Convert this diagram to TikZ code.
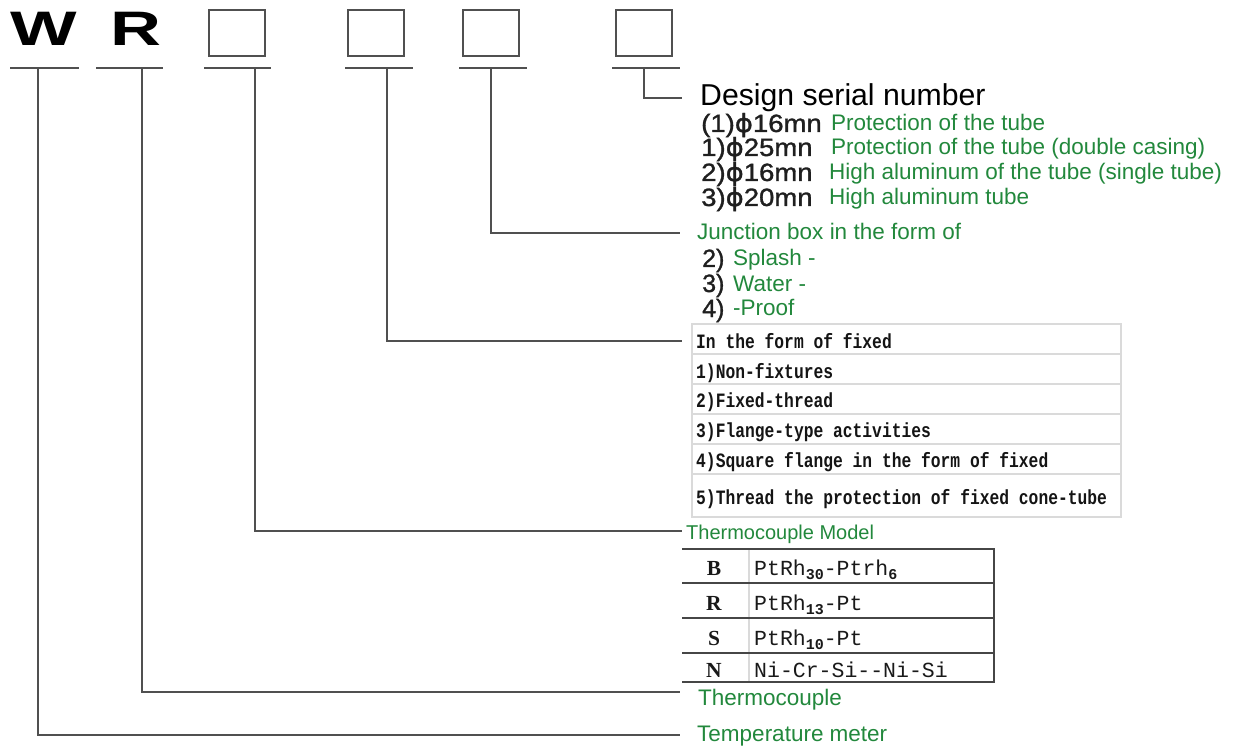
\documentclass[tikz,border=0pt]{standalone}
\usepackage{fontspec}
\setmainfont{Liberation Sans}
\newfontfamily\monof{Liberation Mono}
\newfontfamily\seriff{Liberation Serif}
\newfontfamily\phif[FakeBold=1.2]{DejaVu Sans}
\newfontfamily\semib[FakeBold=1.2]{Liberation Sans}
\definecolor{tgreen}{RGB}{34,136,60}
\definecolor{lgray}{RGB}{80,80,80}
\definecolor{tabgray}{RGB}{218,218,218}
\definecolor{tabdark}{RGB}{70,70,70}
\begin{document}
\begin{tikzpicture}[x=1pt,y=-1pt,
  leg/.style={draw=lgray,line width=2pt},
  ubar/.style={draw=lgray,line width=2.5pt},
  codebox/.style={draw=lgray,line width=2pt,minimum width=56pt,minimum height=46pt,inner sep=0pt},
  bigletter/.style={inner sep=0pt,anchor=base},
  gtext/.style={anchor=base west,inner sep=0pt,text=tgreen,font=\fontsize{22.5}{22.5}\selectfont},
  btext/.style={anchor=base west,inner sep=0pt,text=black,font=\fontsize{30.2}{30.2}\selectfont},
  ptext/.style={anchor=base west,inner sep=0pt,text=black!88,font=\semib\fontsize{25}{25}\selectfont},
  ttext/.style={anchor=base west,inner sep=0pt,text=black!92,font=\monof\bfseries\fontsize{16.3}{16.3}\selectfont},
  mtext/.style={anchor=base west,inner sep=0pt,text=black!90,font=\monof\fontsize{21.5}{21.5}\selectfont},
  ltext/.style={anchor=base,inner sep=0pt,text=black!90,font=\seriff\bfseries\fontsize{21.5}{21.5}\selectfont},
  tabline/.style={draw=tabgray,line width=1.2pt},
  tabdarkline/.style={draw=tabdark,line width=2pt}
]
\useasboundingbox (0,0) rectangle (1235,746);

% code letters and boxes
\node[bigletter] (w) at (44,46) {\scalebox{1.5}[1.03]{\fontsize{47}{47}\selectfont\bfseries W}};
\node[bigletter] (r) at (136,46) {\scalebox{1.5}[1.03]{\fontsize{47}{47}\selectfont\bfseries R}};
\node[codebox] (b1) at (237,33) {};
\node[codebox] (b2) at (376,33) {};
\node[codebox] (b3) at (491,33) {};
\node[codebox] (b4) at (644,33) {};

% underlines
\draw[ubar] (10,68) -- (79,68);
\draw[ubar] (96,68) -- (163,68);
\draw[ubar] (204,68) -- (271,68);
\draw[ubar] (345,68) -- (413,68);
\draw[ubar] (459,68) -- (527,68);
\draw[ubar] (612,68) -- (680,68);

% leg tops and ends
\coordinate (t1) at (38,68);
\coordinate (t2) at (142,68);
\coordinate (t3) at (255,68);
\coordinate (t4) at (387,68);
\coordinate (t5) at (491,68);
\coordinate (t6) at (644,68);
\coordinate (e1) at (680,735);
\coordinate (e2) at (680,692);
\coordinate (e3) at (682,531);
\coordinate (e4) at (682,341);
\coordinate (e5) at (680,233);
\coordinate (e6) at (682,98);

% texts: design serial number
\node[btext] (design) at (700,106) {Design serial number};
\node[ptext] (p1) at (701,132) {\scalebox{1.1}[1]{(1){\phif ϕ}16mn}};
\node[gtext] (g1) at (831,131) {Protection of the tube};
\node[ptext] (p2) at (701,156) {\scalebox{1.1}[1]{1){\phif ϕ}25mn}};
\node[gtext] (g2) at (831,155) {Protection of the tube (double casing)};
\node[ptext] (p3) at (701,181) {\scalebox{1.1}[1]{2){\phif ϕ}16mn}};
\node[gtext] (g3) at (829,180) {High aluminum of the tube (single tube)};
\node[ptext] (p4) at (701,206) {\scalebox{1.1}[1]{3){\phif ϕ}20mn}};
\node[gtext] (g4) at (829,205) {High aluminum tube};

% junction box
\node[gtext] (junc) at (697,240) {Junction box in the form of};
\node[ptext] (j2) at (702,267) {2)};
\node[gtext] (j2t) at (733,266) {Splash -};
\node[ptext] (j3) at (702,292) {3)};
\node[gtext] (j3t) at (733,291) {Water -};
\node[ptext] (j4) at (702,317) {4)};
\node[gtext] (j4t) at (733,316) {-Proof};

% fixing table
\draw[tabline] (692,324) rectangle (1121,517);
\foreach \yy in {354,384,414,444,474} \draw[tabline] (692,\yy) -- (1121,\yy);
\node[ttext] (f0) at (696,348) {\scalebox{1}[1.25]{In the form of fixed}};
\node[ttext] (f1) at (696,378) {\scalebox{1}[1.25]{1)Non-fixtures}};
\node[ttext] (f2) at (696,407) {\scalebox{1}[1.25]{2)Fixed-thread}};
\node[ttext] (f3) at (696,437) {\scalebox{1}[1.25]{3)Flange-type activities}};
\node[ttext] (f4) at (696,467) {\scalebox{1}[1.25]{4)Square flange in the form of fixed}};
\node[ttext] (f5) at (696,504) {\scalebox{1}[1.25]{5)Thread the protection of fixed cone-tube}};

% thermocouple model
\node[gtext,font=\fontsize{20}{20}\selectfont] (model) at (686,539) {Thermocouple Model};
\draw[tabline] (749,549) -- (749,682);
\foreach \yy in {549,583,618,653,682} \draw[tabdarkline] (682,\yy) -- (995,\yy);
\draw[tabdarkline] (994,548) -- (994,683);
\node[ltext] (mb) at (714,575) {B};
\node[ltext] (mr) at (714,610) {R};
\node[ltext] (ms) at (714,645) {S};
\node[ltext] (mn) at (714,677) {N};
\node[mtext] (tb) at (754,575) {PtRh\raisebox{-4pt}{\fontsize{15}{15}\selectfont\bfseries 30}-Ptrh\raisebox{-4pt}{\fontsize{15}{15}\selectfont\bfseries 6}};
\node[mtext] (tr) at (754,610) {PtRh\raisebox{-4pt}{\fontsize{15}{15}\selectfont\bfseries 13}-Pt};
\node[mtext] (ts) at (754,645) {PtRh\raisebox{-4pt}{\fontsize{15}{15}\selectfont\bfseries 10}-Pt};
\node[mtext] (tn) at (754,677) {Ni-Cr-Si--Ni-Si};

% bottom labels
\node[gtext] (thermo) at (698,705) {Thermocouple};
\node[gtext] (temp) at (697,741) {Temperature meter};

% legs
\draw[leg] (t1) |- (e1);
\draw[leg] (t2) |- (e2);
\draw[leg] (t3) |- (e3);
\draw[leg] (t4) |- (e4);
\draw[leg] (t5) |- (e5);
\draw[leg] (t6) |- (e6);
\end{tikzpicture}
\end{document}
